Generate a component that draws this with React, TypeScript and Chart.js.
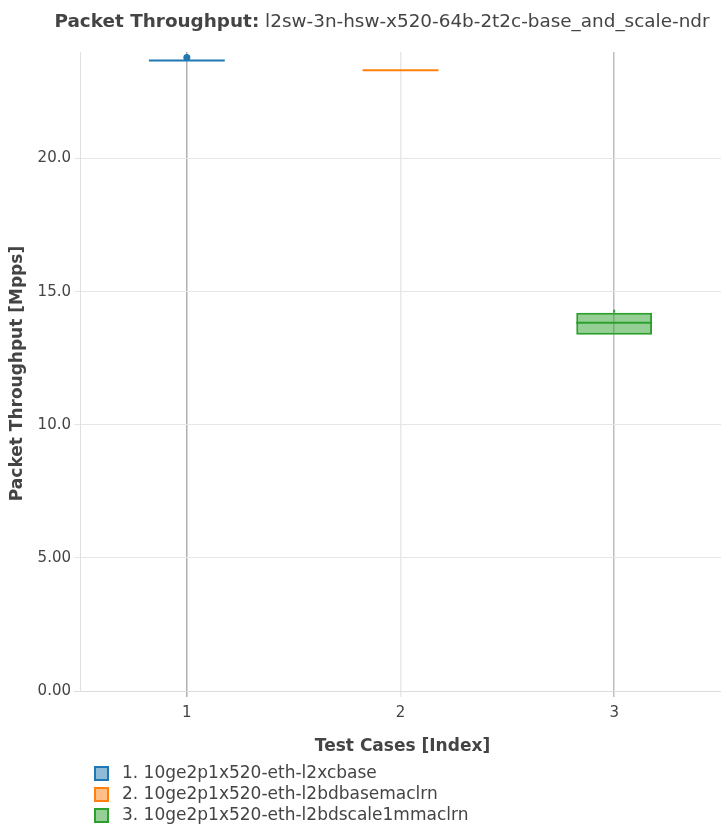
import React, { useEffect, useRef } from "react";
import { Chart, registerables } from "chart.js";

Chart.register(...registerables);

const categories = ["1", "2", "3"];
const legendLabels = [
  "1. 10ge2p1x520-eth-l2xcbase",
  "2. 10ge2p1x520-eth-l2bdbasemaclrn",
  "3. 10ge2p1x520-eth-l2bdscale1mmaclrn",
];
const q1Values = [23.68, 23.31, 13.38];
const q3Values = [23.68, 23.31, 14.21];
const medianValues = [23.68, 23.31, 13.83];
const whiskerLow = [23.68, 23.31, 13.38];
const whiskerHigh = [23.68, 23.31, 14.32];
const outlierValues: (number | null)[] = [23.79, null, null];
const yTicks = [0, 5, 10, 15, 20];
const yTickLabels = ["0.00", "5.00", "10.0", "15.0", "20.0"];
const yMax = 24.0;

const lineColors = ["#1f77b4", "#ff7f0e", "#2ca02c"];
const fillColors = ["rgba(31,119,180,0.5)", "rgba(255,127,14,0.5)", "rgba(44,160,44,0.5)"];
const vGridColors = ["#b0b0b0", "#e8e8e8", "#bebebe"];

const FONT = "'DejaVu Sans', sans-serif";

const boxPlugin = {
  id: "boxExtras",
  afterDatasetsDraw(chart: any) {
    const ctx = chart.ctx;
    const xs = chart.scales.x;
    const ys = chart.scales.y;
    const meta = chart.getDatasetMeta(0);
    ctx.save();
    for (let i = 0; i < categories.length; i++) {
      const el = meta.data[i];
      const cx = xs.getPixelForValue(i);
      const hw = el.width / 2;
      ctx.strokeStyle = lineColors[i];
      ctx.lineWidth = 2;
      const ym = ys.getPixelForValue(medianValues[i]);
      ctx.beginPath();
      ctx.moveTo(cx - hw, ym);
      ctx.lineTo(cx + hw, ym);
      ctx.stroke();
      ctx.beginPath();
      ctx.moveTo(cx, ys.getPixelForValue(q3Values[i]));
      ctx.lineTo(cx, ys.getPixelForValue(whiskerHigh[i]));
      ctx.moveTo(cx, ys.getPixelForValue(q1Values[i]));
      ctx.lineTo(cx, ys.getPixelForValue(whiskerLow[i]));
      ctx.stroke();
    }
    ctx.restore();
  },
  afterDraw(chart: any) {
    const ctx = chart.ctx;
    const area = chart.chartArea;
    ctx.save();
    ctx.fillStyle = "#444";
    ctx.textBaseline = "middle";
    const boldPart = "Packet Throughput:";
    const normPart = " l2sw-3n-hsw-x520-64b-2t2c-base_and_scale-ndr";
    ctx.font = `bold 18.4px ${FONT}`;
    const bw = ctx.measureText(boldPart).width;
    ctx.font = `18.4px ${FONT}`;
    const nw = ctx.measureText(normPart).width;
    const startX = 382 - (bw + nw) / 2;
    ctx.textAlign = "left";
    ctx.font = `bold 18.4px ${FONT}`;
    ctx.fillText(boldPart, startX, 22);
    ctx.font = `18.4px ${FONT}`;
    ctx.fillText(normPart, startX + bw, 22);
    ctx.font = `bold 17px ${FONT}`;
    ctx.textAlign = "center";
    ctx.fillText("Test Cases [Index]", (area.left + area.right) / 2 + 2, 747);
    ctx.save();
    ctx.translate(18, (area.top + area.bottom) / 2 + 2);
    ctx.rotate(-Math.PI / 2);
    ctx.fillText("Packet Throughput [Mpps]", 0, 0);
    ctx.restore();
    ctx.textAlign = "left";
    ctx.font = `17px ${FONT}`;
    for (let i = 0; i < legendLabels.length; i++) {
      const cy = 773 + i * 21;
      ctx.fillStyle = fillColors[i];
      ctx.fillRect(95, cy - 6, 13, 13);
      ctx.strokeStyle = lineColors[i];
      ctx.lineWidth = 2;
      ctx.strokeRect(95, cy - 6, 13, 13);
      ctx.fillStyle = "#444";
      ctx.fillText(legendLabels[i], 122, cy + 1);
    }
    ctx.restore();
  },
};

export default function App() {
  const ref = useRef<HTMLCanvasElement>(null);
  useEffect(() => {
    document.body.style.margin = "0";
    const chart = new Chart(ref.current!, {
      type: "bar",
      data: {
        labels: categories,
        datasets: [
          {
            type: "bar",
            data: q1Values.map((v, i) => [v, q3Values[i]]) as any,
            backgroundColor: fillColors,
            borderColor: lineColors,
            borderWidth: 2,
            borderSkipped: false,
            categoryPercentage: 1,
            barPercentage: 0.355,
          } as any,
          {
            type: "line",
            data: outlierValues as any,
            showLine: false,
            pointRadius: 3.5,
            pointBackgroundColor: lineColors[0],
            pointBorderColor: lineColors[0],
            pointBorderWidth: 0,
          } as any,
        ],
      },
      options: {
        animation: false,
        responsive: false,
        devicePixelRatio: 1,
        layout: { autoPadding: false, padding: { top: 52, left: 0, right: 0, bottom: 0 } },
        plugins: {
          legend: { display: false },
          title: { display: false },
          tooltip: { enabled: false },
        },
        scales: {
          x: {
            type: "category",
            offset: true,
            grid: {
              offset: false,
              color: (c: any) => vGridColors[c.index] ?? "#e8e8e8",
              tickLength: 6,
              lineWidth: 1.5,
            },
            border: { display: false },
            ticks: {
              color: "#444",
              font: { family: FONT, size: 15 },
              padding: 7,
            },
            afterFit(scale: any) {
              scale.height = 149;
              scale.paddingLeft = 0;
              scale.paddingRight = 0;
            },
          },
          y: {
            min: 0,
            max: yMax,
            afterBuildTicks(scale: any) {
              scale.ticks = yTicks.map((v) => ({ value: v }));
            },
            grid: {
              color: (c: any) => (c.tick && c.tick.value === 0 ? "#dcdcdc" : "#e6e6e6"),
              tickLength: 6,
              lineWidth: 1,
            },
            border: { display: true, color: "#e0e0e0" },
            ticks: {
              color: "#444",
              font: { family: FONT, size: 15 },
              padding: 3,
              callback: (v: any) => {
                const idx = yTicks.indexOf(Number(v));
                return idx >= 0 ? yTickLabels[idx] : "";
              },
            },
            afterFit(scale: any) {
              scale.width = 80;
              scale.paddingTop = 0;
              scale.paddingBottom = 0;
            },
          },
        },
      },
      plugins: [boxPlugin],
    });
    return () => chart.destroy();
  }, []);
  return (
    <div style={{ position: "absolute", left: 0, top: 0, width: 721, height: 840, background: "#fff", overflow: "hidden" }}>
      <canvas ref={ref} width={721} height={840} style={{ display: "block", width: 721, height: 840 }} />
    </div>
  );
}
